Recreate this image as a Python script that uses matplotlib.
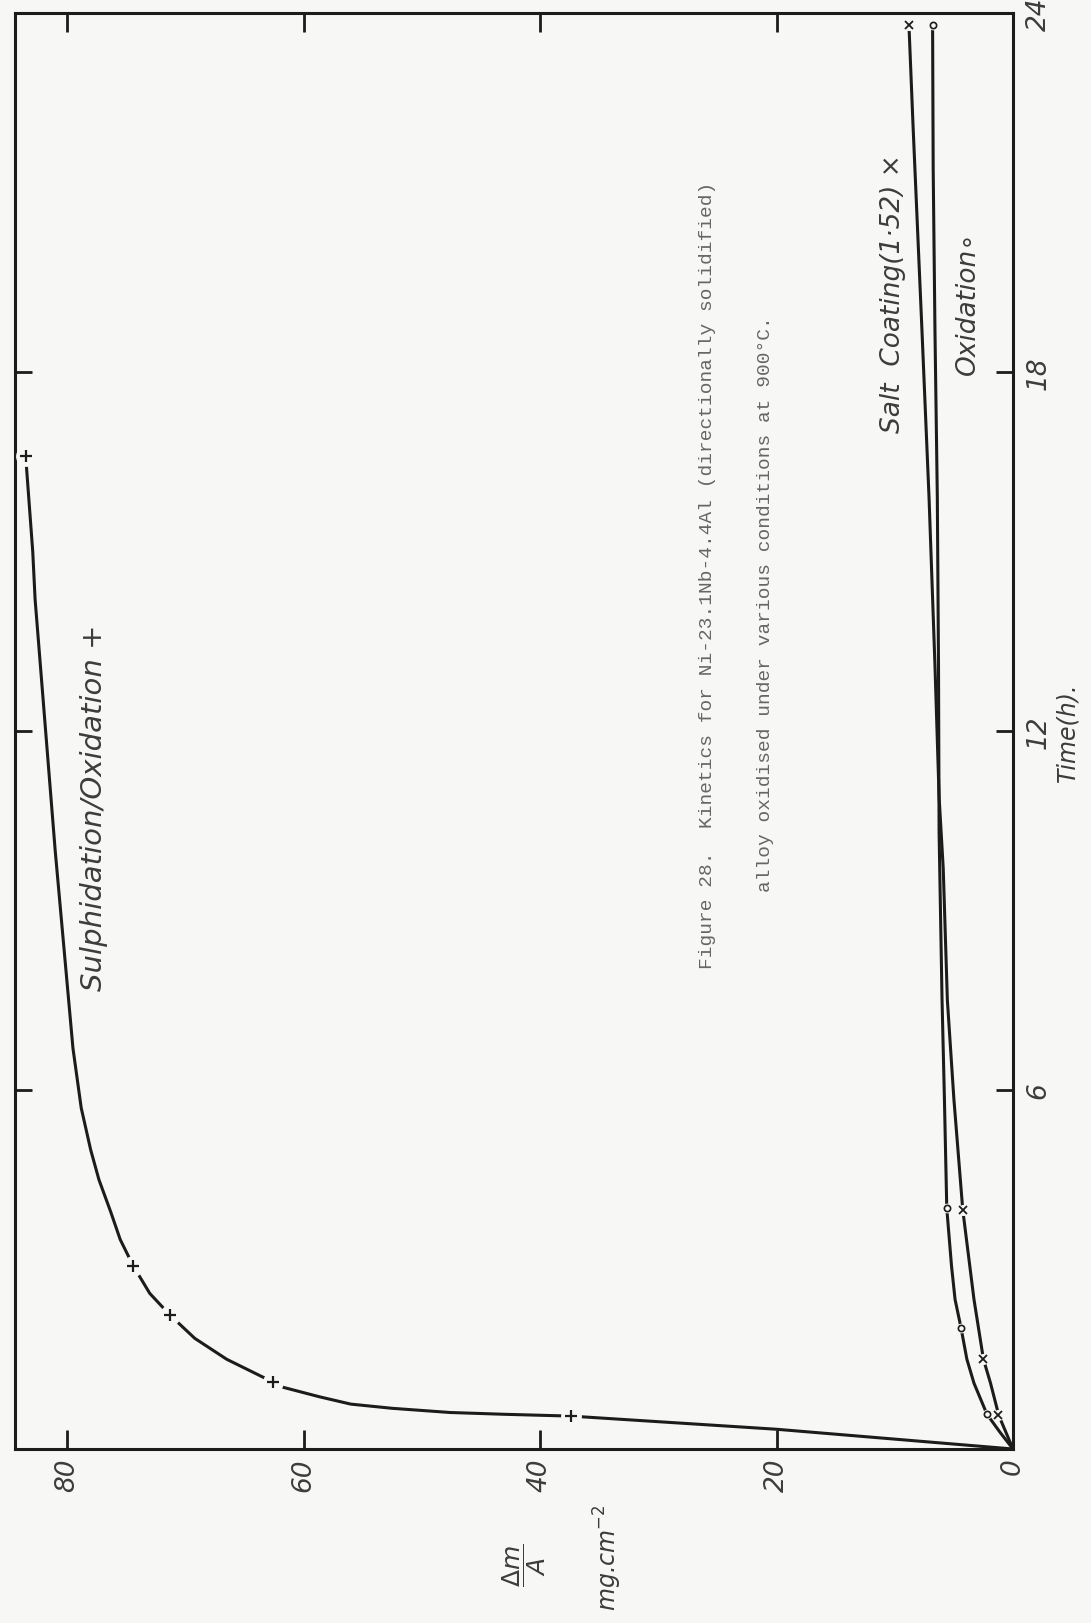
import matplotlib
matplotlib.use("Agg")
import matplotlib.pyplot as plt

# Mass gain per unit area (mg cm^-2) of the alloy against exposure time (h)
# at 900 C, for three exposure conditions.

# Sulphidation/Oxidation: measured points and the drawn curve
sulph_pts_t = [0.55, 1.12, 2.24, 3.06, 16.6]
sulph_pts_m = [37.4, 62.6, 71.3, 74.4, 83.5]
sulph_t = [0.0, 0.33, 0.55, 0.58, 0.61, 0.68, 0.75, 0.87, 1.03, 1.12, 1.5,
           1.85, 2.24, 2.6, 3.06, 3.5, 3.96, 4.5, 5.0, 5.7, 6.7, 10.0, 14.2,
           15.0, 16.6]
sulph_m = [0.0, 20.0, 37.4, 43.0, 47.6, 52.5, 56.0, 58.6, 61.7, 62.6, 66.5,
           69.2, 71.3, 73.0, 74.4, 75.5, 76.3, 77.3, 78.0, 78.8, 79.5, 81.0,
           82.7, 82.9, 83.5]

# Salt coating (1.52): measured points and the drawn curve
salt_pts_t = [0.56, 1.5, 4.0, 23.8]
salt_pts_m = [1.24, 2.5, 4.25, 8.8]
salt_t = [0.0, 0.56, 1.1, 1.5, 2.5, 4.0, 5.85, 7.5, 9.7, 10.9, 13.1, 15.9,
          18.7, 22.1, 23.8]
salt_m = [0.0, 1.2, 1.9, 2.5, 3.3, 4.25, 5.0, 5.55, 5.9, 6.25, 6.6, 7.1,
          7.7, 8.45, 8.8]

# Oxidation: measured points and the drawn curve
ox_pts_t = [0.58, 2.03, 4.02, 23.8]
ox_pts_m = [2.2, 4.4, 5.6, 6.8]
ox_t = [0.0, 0.28, 0.58, 1.1, 1.5, 2.03, 2.5, 3.06, 4.02, 5.85, 7.5, 10.3,
        13.1, 15.9, 18.7, 21.4, 23.8]
ox_m = [0.0, 1.1, 2.2, 3.3, 3.9, 4.4, 4.9, 5.2, 5.6, 5.8, 6.0, 6.25, 6.3,
        6.4, 6.6, 6.75, 6.8]

mass_ticks = [80, 60, 40, 20, 0]
mass_labels = ["80", "60", "40", "20", "0"]
time_ticks = [6, 12, 18, 24]
time_labels = ["6", "12", "18", "24"]

BG = "#f7f7f5"
INK = "#1c1c1c"
LABEL_INK = "#3c3c3c"
CAPTION_INK = "#666666"

plt.rcParams["mathtext.fontset"] = "dejavusans"

W, H = 1091, 1624
fig = plt.figure(figsize=(W / 100, H / 100), dpi=100, facecolor=BG)

left, right, top, bottom = 15, 1013, 14, 1450
ax = fig.add_axes([left / W, 1 - bottom / H, (right - left) / W, (bottom - top) / H])
ax.set_facecolor(BG)
ax.set_xlim(84.4, 0)
ax.set_ylim(0, 24)

for s in ax.spines.values():
    s.set_linewidth(2.2)
    s.set_color(INK)

hand = dict(family=["DejaVu Sans"], style="oblique", weight="normal",
            color=LABEL_INK)


def curve(t, m, pt_t, pt_m, marker, ms, mew, gap):
    ax.plot(m, t, color=INK, lw=2.2, solid_capstyle="round",
            solid_joinstyle="round", zorder=3)
    # small breaks in the pen line around each plotted point
    ax.plot(pt_m, pt_t, linestyle="none", marker="o", ms=gap, mfc=BG,
            mec="none", zorder=4)
    ax.plot(pt_m, pt_t, linestyle="none", marker=marker, ms=ms, mew=mew,
            mfc=BG if marker == "o" else INK, mec=INK, zorder=5)


curve(sulph_t, sulph_m, sulph_pts_t, sulph_pts_m, "+", 8, 1.6, 15)
curve(salt_t, salt_m, salt_pts_t, salt_pts_m, "x", 5.5, 1.3, 8)
curve(ox_t, ox_m, ox_pts_t, ox_pts_m, "o", 4.5, 1.2, 7)

# ticks: mass gain along the bottom/top, time along the right/left
ax.set_xticks(mass_ticks)
ax.set_xticklabels(mass_labels, rotation=90, fontsize=19, **hand)
ax.set_yticks(time_ticks)
ax.set_yticklabels(time_labels, rotation=90, fontsize=19, va="center", **hand)
ax.tick_params(axis="x", direction="in", length=14, width=2.0, color=INK,
               top=True, bottom=True, labelbottom=True, labeltop=False, pad=6)
ax.tick_params(axis="y", direction="in", length=12, width=2.0, color=INK,
               left=True, right=True, labelleft=False, labelright=True, pad=9)

ax.yaxis.set_label_position("right")
ax.set_ylabel("Time(h).", rotation=90, fontsize=17, labelpad=3, **hand)

# curve annotations
ax.text(0.079, 0.447, "Sulphidation/Oxidation +", rotation=90, fontsize=21,
        ha="center", va="center", transform=ax.transAxes, **hand)
ax.text(0.880, 0.805, "Salt  Coating(1\u00b752) \u00d7", rotation=90,
        fontsize=19, ha="center", va="center", transform=ax.transAxes, **hand)
ax.text(0.955, 0.799, "Oxidation\u2218", rotation=90, fontsize=19,
        ha="center", va="center", transform=ax.transAxes, **hand)

# axis quantity and units
fig.text(524 / W, 1 - 1565 / H, r"$\dfrac{\Delta m}{A}$", rotation=90,
         fontsize=18, ha="center", va="center", color=LABEL_INK)
fig.text(608 / W, 1 - 1558 / H, r"mg.cm$^{-2}$", rotation=90, fontsize=17,
         ha="center", va="center", **hand)

# typed caption
cap = dict(family=["Liberation Mono", "DejaVu Sans Mono"], color=CAPTION_INK,
           fontsize=14, rotation=90, ha="center", va="center")
fig.text(708 / W, 1 - 575 / H,
         "Figure 28.  Kinetics for Ni-23.1Nb-4.4Al (directionally solidified)",
         **cap)
fig.text(765 / W, 1 - 604 / H,
         "alloy oxidised under various conditions at 900\u00b0C.", **cap)

fig.savefig("out.png", dpi=100, facecolor=BG)
